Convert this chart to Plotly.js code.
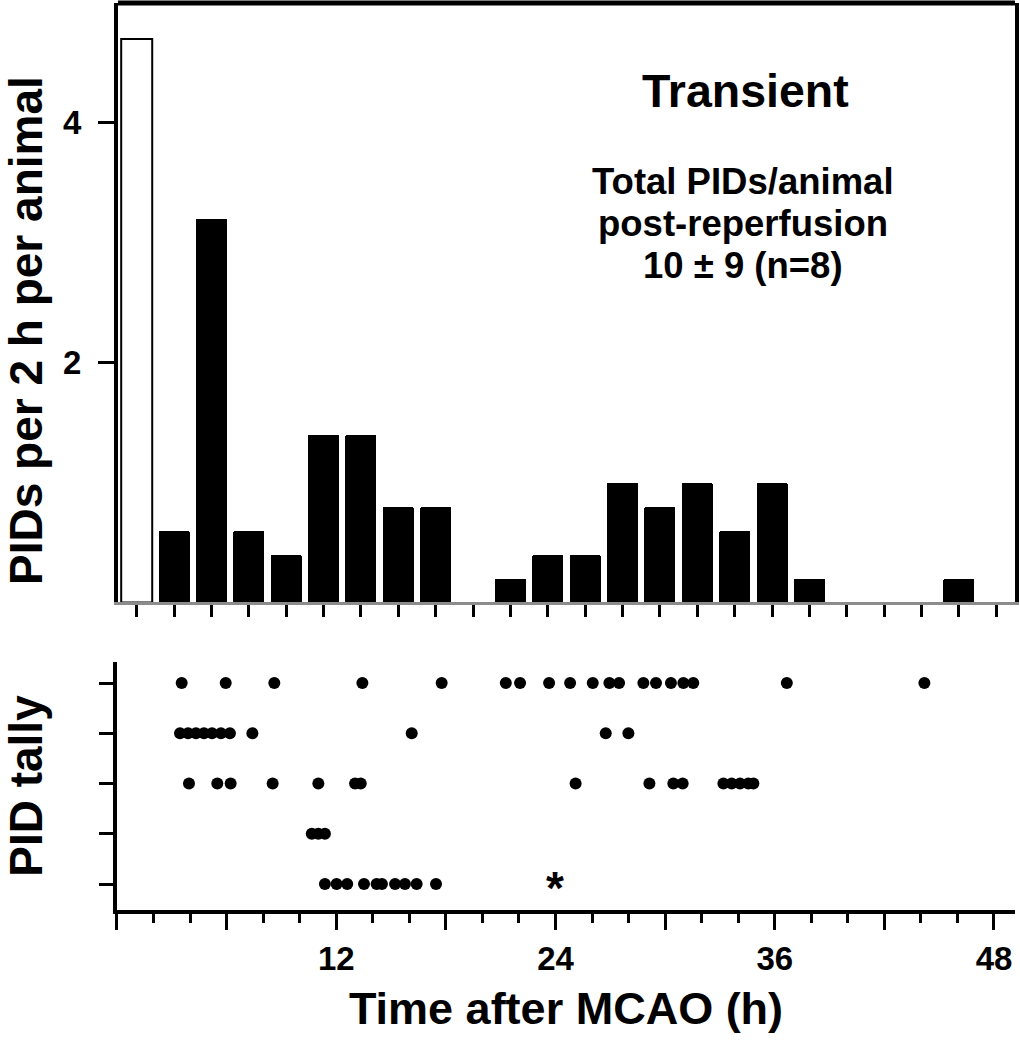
<!DOCTYPE html>
<html>
<head>
<meta charset="utf-8">
<script src="https://cdn.plot.ly/plotly-3.0.1.min.js"></script>
<style>html,body{margin:0;padding:0;background:#fff;}#chart{width:1020px;height:1050px;}</style>
</head>
<body>
<div id="chart"></div>
<script>
// ---- data ----
// 2-h bins: centre of each bin (h) and PIDs per 2 h per animal
const binCenters = [1, 3, 5, 7, 9, 11, 13, 15, 17, 19, 21, 23, 25, 27, 29, 31, 33, 35, 37, 39, 41, 43, 45, 47];
const barValues  = [4.7, 0.6, 3.2, 0.6, 0.4, 1.4, 1.4, 0.8, 0.8, 0, 0.2, 0.4, 0.4, 1.0, 0.8, 1.0, 0.6, 1.0, 0.2, 0, 0, 0, 0.2, 0];
const occlusionBins = [true, false, false, false, false, false, false, false, false, false, false, false, false, false, false, false, false, false, false, false, false, false, false, false];

// PID tally: times (h) of each PID, one array per animal (row 5 = top)
const tallyRow5 = [3.54, 5.95, 8.61, 13.43, 17.77, 21.28, 22.06, 23.65, 24.8, 26.04, 26.95, 27.48, 28.81, 29.5, 30.32, 31.0, 31.54, 36.66, 44.19];
const tallyRow4 = [3.45, 3.89, 4.32, 4.76, 5.2, 5.69, 6.18, 7.41, 16.13, 26.75, 27.99];
const tallyRow3 = [3.94, 5.49, 6.22, 8.52, 11.02, 13.03, 13.34, 25.1, 29.14, 30.45, 30.96, 33.19, 33.64, 34.1, 34.55, 34.83];
const tallyRow2 = [10.66, 11.02, 11.38];
const tallyRow1 = [11.38, 12.02, 12.6, 13.52, 14.21, 14.5, 15.22, 15.76, 16.4, 17.46];
const asteriskTime = [24];
const asteriskRow = [1];

const xTickVals = [0, 6, 12, 18, 24, 30, 36, 42, 48];
const xTickText = ['', '', '12', '', '24', '', '36', '', '48'];
const yTickVals = [2, 4];
const yTickText = ['2', '4'];

const summaryLines = ['Total PIDs/animal', 'post-reperfusion', '10 ± 9 (n=8)'];

// ---- build ----
const FONT = 'Liberation Sans, Arial, Helvetica, sans-serif';
const openX = [], openY = [], fillX = [], fillY = [];
binCenters.forEach((c, i) => {
  if (occlusionBins[i]) { openX.push(c); openY.push(barValues[i]); }
  else { fillX.push(c); fillY.push(barValues[i]); }
});

const traces = [
  {type: 'bar', x: openX, y: openY, width: 1.66, xaxis: 'x', yaxis: 'y',
   marker: {color: '#ffffff', line: {color: '#000000', width: 2}}, hoverinfo: 'x+y'},
  {type: 'bar', x: fillX, y: fillY, width: 1.66, xaxis: 'x', yaxis: 'y',
   marker: {color: '#000000', line: {color: '#000000', width: 0}, cornerradius: 2}, hoverinfo: 'x+y'}
];
const rows = [tallyRow1, tallyRow2, tallyRow3, tallyRow4, tallyRow5];
rows.forEach((arr, i) => {
  traces.push({type: 'scatter', mode: 'markers', x: arr, y: arr.map(() => i + 1),
    xaxis: 'x2', yaxis: 'y2', marker: {color: '#000000', size: 12}, hoverinfo: 'x'});
});

const bold = (size) => ({family: FONT, size: size, color: '#000', weight: 700});
const summaryY = [0.8276, 0.7876, 0.7476];
const annotations = [
  {xref: 'paper', yref: 'paper', x: 0.0255, y: 0.6848, xanchor: 'center', yanchor: 'middle',
   textangle: -90, showarrow: false, text: 'PIDs per 2 h per animal', font: bold(46)},
  {xref: 'paper', yref: 'paper', x: 0.7312, y: 0.9133, xanchor: 'center', yanchor: 'middle',
   showarrow: false, text: 'Transient', font: bold(46.5)},
  {xref: 'x2', yref: 'y2', x: asteriskTime[0], y: asteriskRow[0], xanchor: 'center', yanchor: 'middle',
   showarrow: false, text: '*', yshift: -4, font: bold(46)}
];
summaryLines.forEach((t, i) => {
  annotations.push({xref: 'paper', yref: 'paper', x: 0.7284, y: summaryY[i], xanchor: 'center', yanchor: 'middle',
    showarrow: false, text: t, font: bold(36.5)});
});

const layout = {
  width: 1020, height: 1050,
  margin: {l: 0, r: 0, t: 0, b: 0},
  paper_bgcolor: '#ffffff', plot_bgcolor: '#ffffff',
  showlegend: false, bargap: 0,
  font: {family: FONT, color: '#000'},
  xaxis: {domain: [0.1157, 0.9951], range: [0, 48], anchor: 'y',
    showgrid: false, zeroline: false, showline: true, linecolor: '#8c8c8c', linewidth: 3,
    tickmode: 'array', tickvals: binCenters, ticks: 'outside', ticklen: 12, tickwidth: 3,
    tickcolor: '#000', showticklabels: false, fixedrange: true},
  yaxis: {domain: [0.4262, 0.9971], range: [0, 5], anchor: 'x',
    showgrid: false, zeroline: false, showline: true, mirror: true, linecolor: '#000', linewidth: 4,
    tickmode: 'array', tickvals: yTickVals, ticktext: yTickText, ticks: 'outside', ticklen: 16, tickwidth: 3,
    tickcolor: '#000', tickfont: bold(33), ticklabelstandoff: 10},
  xaxis2: {domain: [0.1147, 0.9951], range: [0, 49.15], anchor: 'y2',
    showgrid: false, zeroline: false, showline: true, linecolor: '#000', linewidth: 4,
    tickmode: 'array', tickvals: xTickVals, ticktext: xTickText, ticks: 'outside', ticklen: 16, tickwidth: 3,
    tickcolor: '#000', tickfont: bold(33),
    minor: {tickmode: 'linear', tick0: 0, dtick: 2, ticks: 'outside', ticklen: 9, tickwidth: 3, tickcolor: '#000', showgrid: false},
    title: {text: 'Time after MCAO (h)', font: bold(45), standoff: 18}},
  yaxis2: {domain: [0.1333, 0.3695], range: [0.483, 5.418], anchor: 'x2',
    showgrid: false, zeroline: false, showline: true, linecolor: '#000', linewidth: 4,
    tickmode: 'array', tickvals: [1, 2, 3, 4, 5], ticks: 'outside', ticklen: 14, tickwidth: 3,
    tickcolor: '#000', showticklabels: false,
    title: {text: 'PID tally', font: bold(46), standoff: 50}},
  shapes: [
    {type: 'line', xref: 'x domain', yref: 'y domain', x0: 0, x1: 1, y0: 1, y1: 1,
     line: {color: '#000', width: 5}}
  ],
  annotations: annotations
};
Plotly.newPlot('chart', traces, layout, {displayModeBar: false, staticPlot: true});
</script>
</body>
</html>
